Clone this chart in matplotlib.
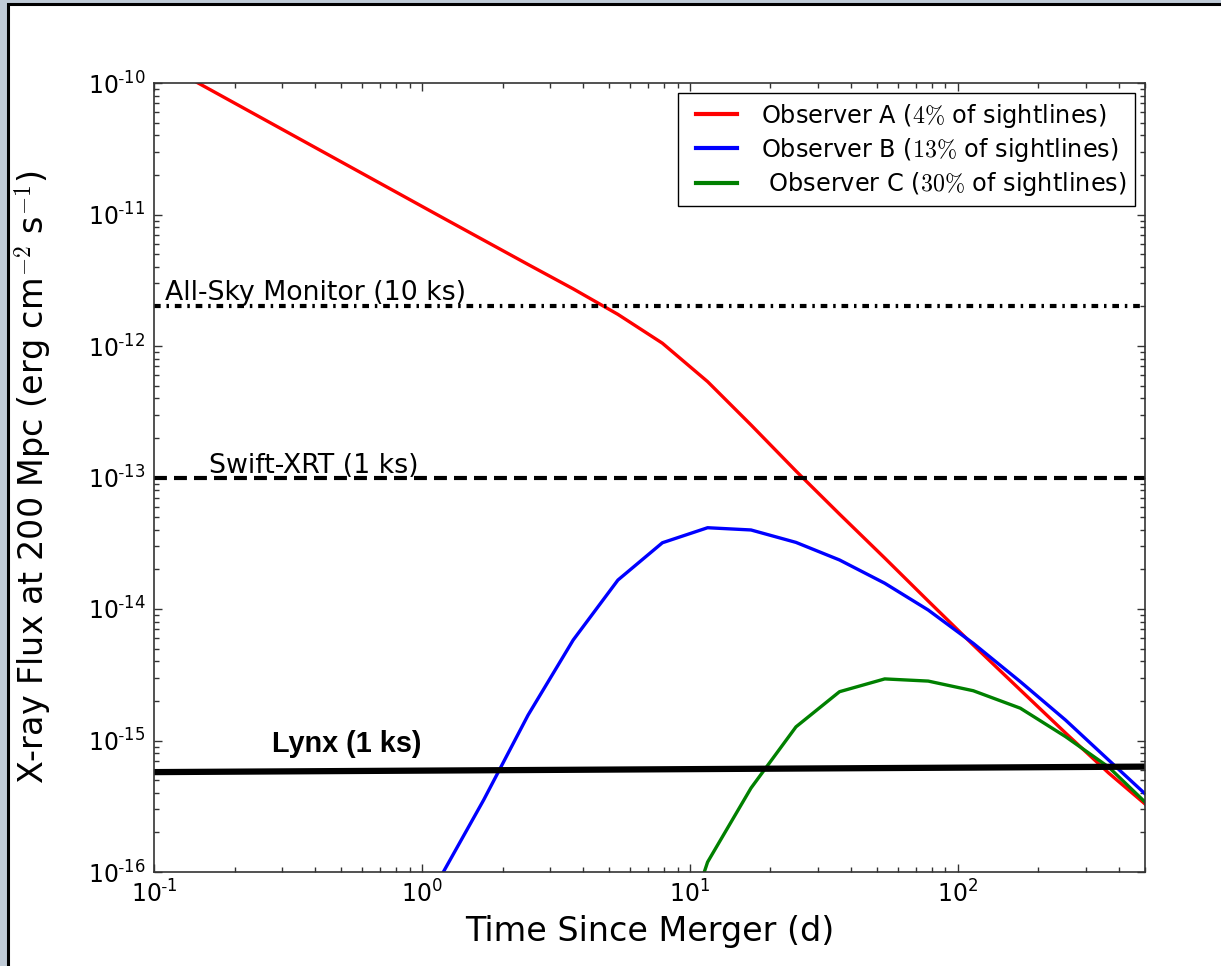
import numpy as np
import matplotlib
matplotlib.use("Agg")
import matplotlib.pyplot as plt
from matplotlib.patches import Rectangle
from matplotlib.ticker import FixedLocator, FixedFormatter, LogLocator, NullFormatter

# light curves at 200 Mpc (days, erg/cm^2/s)
t_red = [0.1156, 1.157, 2.49, 3.67, 5.39, 7.90, 11.65, 16.92, 24.9, 36.2,
         53.4, 77.6, 114.3, 171.3, 252.6, 365.8, 537.0]
f_red = [1.3e-10, 9.8e-12, 4.17e-12, 2.72e-12, 1.74e-12, 1.05e-12, 5.36e-13,
         2.51e-13, 1.12e-13, 5.27e-14, 2.44e-14, 1.15e-14, 5.32e-15, 2.42e-15,
         1.14e-15, 5.66e-16, 2.91e-16]

t_blue = [1.157, 1.70, 2.49, 3.67, 5.39, 7.90, 11.65, 16.92, 24.9, 36.2,
          53.4, 77.6, 114.3, 171.3, 252.6, 365.8, 537.0]
f_blue = [8.7e-17, 3.53e-16, 1.56e-15, 5.81e-15, 1.66e-14, 3.19e-14, 4.15e-14,
          3.99e-14, 3.21e-14, 2.36e-14, 1.57e-14, 9.82e-15, 5.48e-15, 2.80e-15,
          1.43e-15, 7.1e-16, 3.44e-16]

t_green = [7.90, 11.65, 16.92, 24.9, 36.2, 53.4, 77.6, 114.3, 171.3, 252.6,
           365.8, 537.0]
f_green = [1.1e-17, 1.19e-16, 4.35e-16, 1.27e-15, 2.35e-15, 2.94e-15, 2.83e-15,
           2.39e-15, 1.76e-15, 1.07e-15, 6.28e-16, 2.96e-16]

# detector sensitivities
t_lynx = [0.1, 500.0]
f_lynx = [5.75e-16, 6.33e-16]
asm_limit = 2e-12
xrt_limit = 1e-13

labels = [r"Observer A ($4\%$ of sightlines)",
          r"Observer B ($13\%$ of sightlines)",
          r" Observer C ($30\%$ of sightlines)"]

x_ticks = [1e-1, 1e0, 1e1, 1e2]
x_ticklabels = [r"$\mathdefault{10^{\text{-}1}}$", r"$\mathdefault{10^{0}}$",
                r"$\mathdefault{10^{1}}$", r"$\mathdefault{10^{2}}$"]
y_ticks = [1e-16, 1e-15, 1e-14, 1e-13, 1e-12, 1e-11, 1e-10]
y_ticklabels = [r"$\mathdefault{10^{\text{-}%d}}$" % n for n in (16, 15, 14, 13, 12, 11, 10)]

plt.rcParams["mathtext.fontset"] = "cm"
plt.rcParams["font.family"] = "DejaVu Sans"

fig = plt.figure(figsize=(12.21, 9.66), dpi=100)
fig.patch.set_facecolor("#bfcad6")
W, H = 1221.0, 966.0
fig.add_artist(Rectangle((8 / W, -0.1), 1.2, 1.1 - 4 / H, transform=fig.transFigure,
                         facecolor="white", edgecolor="black", linewidth=2.2, zorder=-1))

ax = fig.add_axes([154 / W, 1 - 872 / H, (1145 - 154) / W, (872 - 83) / H])

ax.plot(t_red, f_red, color="red", lw=2.4, label=labels[0])
ax.plot(t_blue, f_blue, color="blue", lw=2.4, label=labels[1])
ax.plot(t_green, f_green, color="green", lw=2.4, label=labels[2])

asm = ax.axhline(asm_limit, color="black", lw=3.0)
asm.set_dashes([1.6, 1.4, 0.6, 1.4])
xrt = ax.axhline(xrt_limit, color="black", lw=3.0)
xrt.set_dashes([3.1, 1.7])
ax.plot(t_lynx, f_lynx, color="black", lw=4.5)

ax.text(0.11, 2.25e-12, "All-Sky Monitor (10 ks)", fontsize=19.3, va="baseline")
ax.text(0.16, 1.08e-13, "Swift-XRT (1 ks)", fontsize=19.3, va="baseline")
ax.text(0.275, 8.2e-16, "Lynx (1 ks)", fontsize=20.8, fontweight="bold",
        family="Liberation Sans", va="baseline")

ax.set_xscale("log")
ax.set_yscale("log")
ax.set_xlim(0.1, 500)
ax.set_ylim(1e-16, 1e-10)

ax.xaxis.set_major_locator(FixedLocator(x_ticks))
ax.xaxis.set_major_formatter(FixedFormatter(x_ticklabels))
ax.yaxis.set_major_locator(FixedLocator(y_ticks))
ax.yaxis.set_major_formatter(FixedFormatter(y_ticklabels))
for axis in (ax.xaxis, ax.yaxis):
    axis.set_minor_locator(LogLocator(base=10, subs=range(2, 10), numticks=20))
    axis.set_minor_formatter(NullFormatter())

ax.tick_params(which="both", direction="in", top=True, right=True, width=1, color="#333333")
ax.tick_params(which="major", length=6, labelsize=17, pad=6)
ax.tick_params(which="minor", length=3.5)
for sp in ax.spines.values():
    sp.set_color("#333333")
    sp.set_linewidth(1.2)

ax.set_xlabel("Time Since Merger (d)", fontsize=24)
ax.set_ylabel(r"X-ray Flux at 200 Mpc (erg cm$^{-2}$ s$^{-1}$)", fontsize=24)
ax.xaxis.set_label_coords(0.5, -0.055)
ax.yaxis.set_label_coords(-0.101, 0.5)

leg = ax.legend(loc="upper right", fontsize=17.3, handlelength=2.1, handletextpad=1.0,
                labelspacing=0.26, borderpad=0.35, borderaxespad=0.42,
                fancybox=False, framealpha=1)
leg.get_frame().set_edgecolor("black")
leg.get_frame().set_linewidth(1.0)
# legend swatches sit a little inset from the frame
for line in leg.get_lines():
    line.set_linewidth(3)
    xd = np.asarray(line.get_xdata(), dtype=float)
    line.set_xdata(np.linspace(xd[0] + 0.2 * (xd[-1] - xd[0]), xd[-1], len(xd)))

fig.savefig("out.png", dpi=100)
